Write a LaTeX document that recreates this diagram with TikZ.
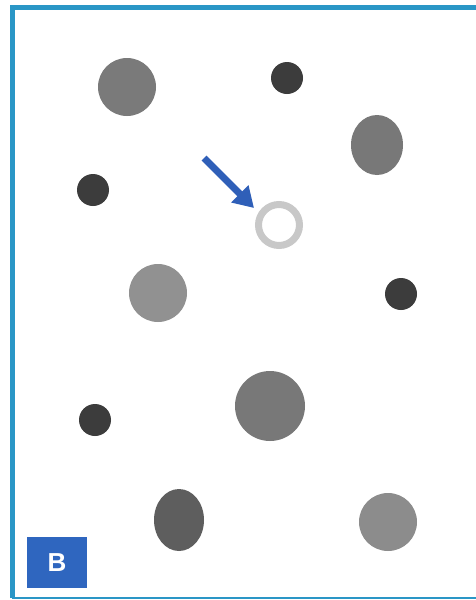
\documentclass[tikz,border=0pt]{standalone}
\usepackage{fontspec}
\setmainfont{Liberation Sans}
\usepackage{xcolor}
\usetikzlibrary{arrows.meta, positioning}

\definecolor{framecol}{HTML}{2A96C6}
\definecolor{tagcol}{HTML}{2F66BF}
\definecolor{arrowcol}{HTML}{2F5FB8}
\definecolor{dotdark}{HTML}{3C3C3C}
\definecolor{ringcol}{HTML}{C8C8C8}

\begin{document}
\begin{tikzpicture}[x=1pt, y=-1pt,
    small/.style={fill=dotdark},
    blob/.style={fill=#1}]
    \useasboundingbox[fill=white] (0,0) rectangle (476,600);

    % frame
    \draw[framecol, line width=5pt] (476,7) -- (12,7) -- (12,598);
    \draw[framecol, line width=2pt] (12,598) -- (476,598);

    % large grey particles
    \fill[blob={gray!90!black!95}] (127,87) circle[radius=29];
    \fill[blob={black!53}] (377,145) ellipse[x radius=26, y radius=30];
    \fill[blob={black!43}] (158,293) circle[radius=29];
    \fill[blob={black!53}] (270,406) circle[radius=35];
    \fill[blob={black!63}] (179,520) ellipse[x radius=25, y radius=31];
    \fill[blob={black!45}] (388,522) circle[radius=29];

    % small dark particles
    \foreach \px/\py in {287/78, 93/190, 401/294, 95/420} {
        \fill[small] (\px,\py) circle[radius=16];
    }

    % empty ring and arrow
    \node[circle, draw=ringcol, line width=7pt, minimum size=41pt, inner sep=0pt] (ring) at (279,225) {};
    \coordinate (tail) at (204,158);
    \coordinate (tip) at (254,208);
    \draw[arrowcol, line width=7pt, -{Triangle[length=20pt, width=23pt]}] (tail) -- (tip);

    % panel tag
    \node[fill=tagcol, text=white, minimum width=60pt, minimum height=51pt, inner sep=0pt,
          font=\fontsize{26}{26}\selectfont\bfseries] (tag) at (57,562.5) {B};
\end{tikzpicture}
\end{document}
